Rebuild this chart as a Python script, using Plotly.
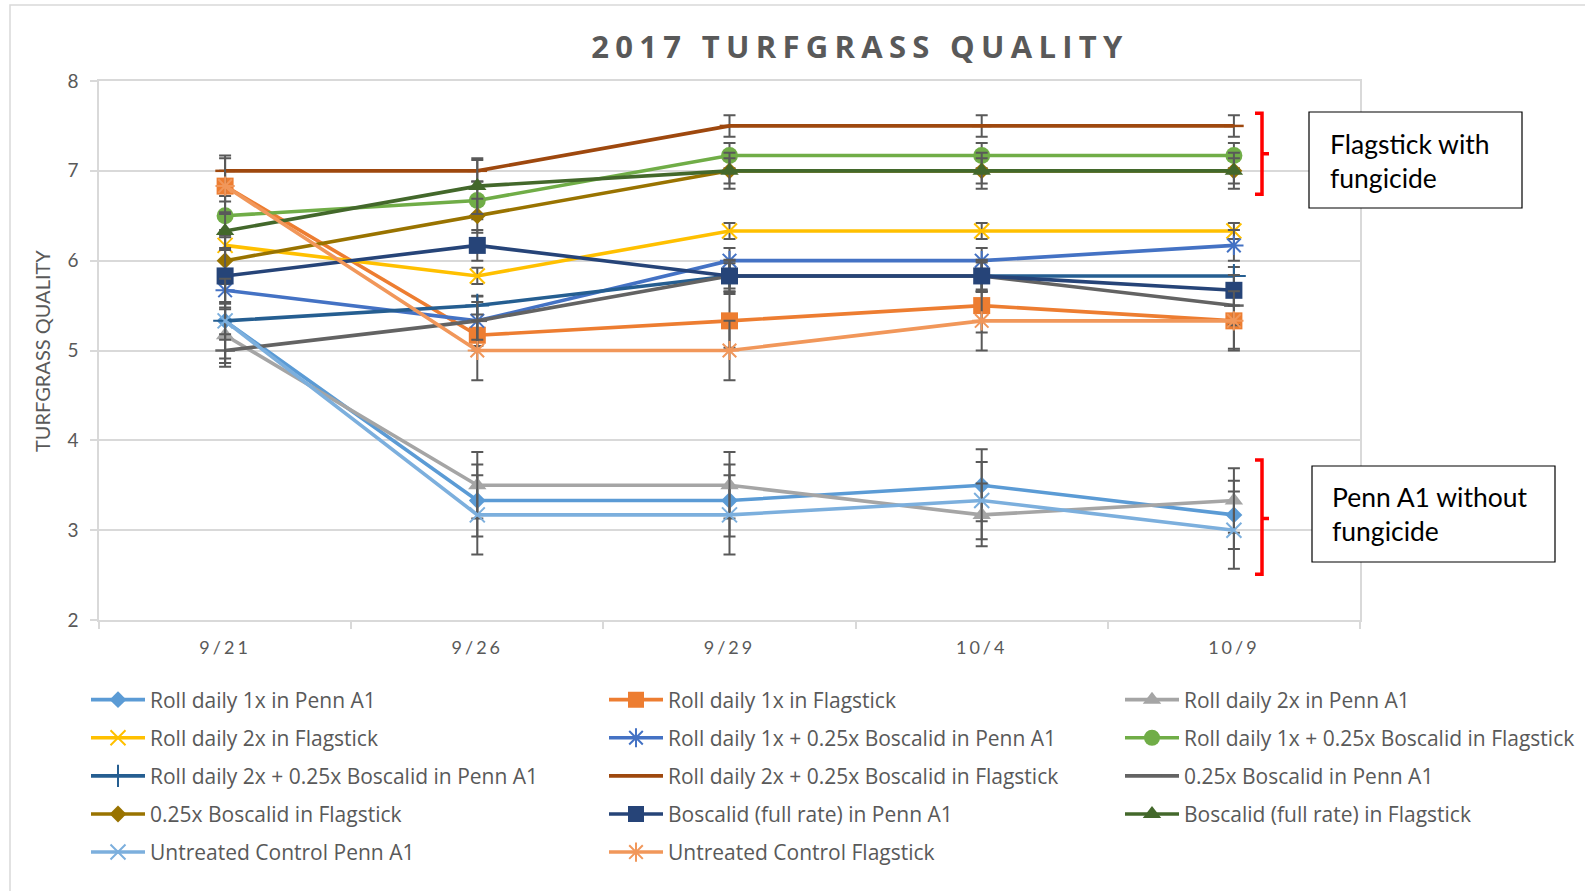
import plotly.graph_objects as go

# ---------------- data ----------------
dates = ["9/21", "9/26", "9/29", "10/4", "10/9"]

names = [
    "Roll daily 1x in Penn A1",
    "Roll daily 1x in Flagstick",
    "Roll daily 2x in Penn A1",
    "Roll daily 2x in Flagstick",
    "Roll daily 1x + 0.25x Boscalid in Penn A1",
    "Roll daily 1x + 0.25x Boscalid in Flagstick",
    "Roll daily 2x + 0.25x Boscalid in Penn A1",
    "Roll daily 2x + 0.25x Boscalid in Flagstick",
    "0.25x Boscalid in Penn A1",
    "0.25x Boscalid in Flagstick",
    "Boscalid (full rate) in Penn A1",
    "Boscalid (full rate) in Flagstick",
    "Untreated Control Penn A1",
    "Untreated Control Flagstick",
]

roll1_penn = [5.33, 3.33, 3.33, 3.50, 3.17]
roll1_flag = [6.83, 5.17, 5.33, 5.50, 5.33]
roll2_penn = [5.17, 3.50, 3.50, 3.17, 3.33]
roll2_flag = [6.17, 5.83, 6.33, 6.33, 6.33]
roll1_bos_penn = [5.67, 5.33, 6.00, 6.00, 6.17]
roll1_bos_flag = [6.50, 6.67, 7.17, 7.17, 7.17]
roll2_bos_penn = [5.33, 5.50, 5.83, 5.83, 5.83]
roll2_bos_flag = [7.00, 7.00, 7.50, 7.50, 7.50]
bos025_penn = [5.00, 5.33, 5.83, 5.83, 5.50]
bos025_flag = [6.00, 6.50, 7.00, 7.00, 7.00]
bosfull_penn = [5.83, 6.17, 5.83, 5.83, 5.67]
bosfull_flag = [6.33, 6.83, 7.00, 7.00, 7.00]
untreated_penn = [5.33, 3.17, 3.17, 3.33, 3.00]
untreated_flag = [6.83, 5.00, 5.00, 5.33, 5.33]

err_roll1_penn = [0.42, 0.40, 0.40, 0.40, 0.38]
err_roll1_flag = [0.17, 0.17, 0.30, 0.30, 0.31]
err_roll2_penn = [0.31, 0.37, 0.37, 0.35, 0.36]
err_roll2_flag = [0.17, 0.09, 0.09, 0.09, 0.09]
err_roll1_bos_penn = [0.21, 0.28, 0.14, 0.14, 0.17]
err_roll1_bos_flag = [0.22, 0.21, 0.14, 0.14, 0.14]
err_roll2_bos_penn = [0.21, 0.10, 0.17, 0.17, 0.10]
err_roll2_bos_flag = [0.17, 0.12, 0.12, 0.12, 0.12]
err_bos025_penn = [0.18, 0.21, 0.18, 0.18, 0.22]
err_bos025_flag = [0.26, 0.19, 0.20, 0.20, 0.20]
err_bosfull_penn = [0.31, 0.17, 0.14, 0.15, 0.17]
err_bosfull_flag = [0.21, 0.31, 0.14, 0.14, 0.14]
err_untreated_penn = [0.47, 0.44, 0.44, 0.43, 0.43]
err_untreated_flag = [0.31, 0.33, 0.33, 0.33, 0.33]

values = [roll1_penn, roll1_flag, roll2_penn, roll2_flag, roll1_bos_penn,
          roll1_bos_flag, roll2_bos_penn, roll2_bos_flag, bos025_penn,
          bos025_flag, bosfull_penn, bosfull_flag, untreated_penn, untreated_flag]
errors = [err_roll1_penn, err_roll1_flag, err_roll2_penn, err_roll2_flag,
          err_roll1_bos_penn, err_roll1_bos_flag, err_roll2_bos_penn,
          err_roll2_bos_flag, err_bos025_penn, err_bos025_flag,
          err_bosfull_penn, err_bosfull_flag, err_untreated_penn, err_untreated_flag]

# ---------------- styles ----------------
colors = ["#5B9BD5", "#ED7D31", "#A5A5A5", "#FFC000", "#4472C4", "#70AD47",
          "#255E91", "#9E480E", "#636363", "#997300", "#264478", "#43682B",
          "#7CAFDD", "#F1975A"]
symbols = ["diamond", "square", "triangle-up", "x-thin-open", "asterisk-open",
           "circle", "cross-thin-open", "line-ew-open", "line-ew-open",
           "diamond", "square", "triangle-up", "x-thin-open", "asterisk-open"]
sizes = [13, 17, 16, 15, 16, 17, 17, 14, 14, 13, 17, 16, 15, 16]
open_syms = {"x-thin-open", "asterisk-open", "cross-thin-open", "line-ew-open"}

FONT = "Lato"
GRAY = "#595959"
GRID = "#D9D9D9"

W, H = 1585, 891
L, R, T, B = 99, 225, 81, 271
PW, PH = W - L - R, H - T - B


def px2x(px):
    return (px - L) / PW


def py2y(py):
    return (H - B - py) / PH


fig = go.Figure()

legend_ids = ["legend", "legend2", "legend3"]
for i, (nm, v, e) in enumerate(zip(names, values, errors)):
    sym = symbols[i]
    if sym in open_syms:
        marker = dict(symbol=sym, size=sizes[i], color=colors[i],
                      line=dict(color=colors[i], width=2.5 if sym == "line-ew-open" else 2))
    else:
        marker = dict(symbol=sym, size=sizes[i], color=colors[i],
                      line=dict(width=0))
    fig.add_trace(go.Scatter(
        x=dates, y=v, name=nm, mode="lines+markers",
        line=dict(color=colors[i], width=3.6),
        marker=marker,
        error_y=dict(type="data", array=e, visible=True, color=GRAY,
                     thickness=2, width=6),
        legend=legend_ids[i % 3],
        legendgroup="g%d" % i,
    ))

# ---------------- decorations ----------------
shapes = []
# outer chart border
shapes.append(dict(type="rect", xref="paper", yref="paper",
                   x0=px2x(10), x1=px2x(1610), y0=py2y(920), y1=py2y(5),
                   line=dict(color=GRID, width=1.5), fillcolor="rgba(0,0,0,0)",
                   layer="below"))

# red brackets (data y, paper x)
def bracket(ytop, ybot, ymid):
    xa, xb, xc = px2x(1255), px2x(1262), px2x(1269)
    path = ("M {a},{t} L {b},{t} L {b},{bt} L {a},{bt} M {b},{m} L {c},{m}"
            .format(a=xa, b=xb, c=xc, t=ytop, bt=ybot, m=ymid))
    return dict(type="path", xref="paper", yref="y", path=path,
                line=dict(color="#FF0000", width=3.5))

shapes.append(bracket(7.64, 6.74, 7.19))
shapes.append(bracket(3.78, 2.51, 3.13))

# text boxes
shapes.append(dict(type="rect", xref="paper", yref="paper",
                   x0=px2x(1309), x1=px2x(1522), y0=py2y(208), y1=py2y(112),
                   line=dict(color="#000000", width=1.2), fillcolor="white"))
shapes.append(dict(type="rect", xref="paper", yref="paper",
                   x0=px2x(1312), x1=px2x(1555), y0=py2y(562), y1=py2y(466),
                   line=dict(color="#000000", width=1.2), fillcolor="white"))

annotations = [
    dict(text="Flagstick with<br>fungicide", xref="paper", yref="paper",
         x=px2x(1328), y=py2y(161), xanchor="left", yanchor="middle",
         align="left", showarrow=False,
         font=dict(family=FONT, size=26.5, color="#000000")),
    dict(text="Penn A1 without<br>fungicide", xref="paper", yref="paper",
         x=px2x(1330), y=py2y(514), xanchor="left", yanchor="middle",
         align="left", showarrow=False,
         font=dict(family=FONT, size=26.5, color="#000000")),
    dict(text="TURFGRASS QUALITY", xref="paper", yref="paper",
         x=px2x(42), y=py2y(351), xanchor="center", yanchor="middle",
         textangle=-90, showarrow=False,
         font=dict(family=FONT, size=20, color=GRAY)),
]

legend_common = dict(orientation="v", xref="container", yref="container",
                     xanchor="left", yanchor="top", bgcolor="rgba(0,0,0,0)",
                     borderwidth=0, itemwidth=54, tracegroupgap=7.8,
                     font=dict(family="Open Sans", size=21, color=GRAY),
                     itemclick=False, itemdoubleclick=False)
leg_y = 1 - 679.5 / H

fig.update_layout(
    width=W, height=H,
    margin=dict(l=L, r=R, t=T, b=B, autoexpand=False),
    paper_bgcolor="white", plot_bgcolor="white",
    title=dict(text="<b>2017 TURFGRASS QUALITY</b>", xref="container",
               yref="container", x=860 / W, y=1 - 47.5 / H,
               xanchor="center", yanchor="middle",
               font=dict(family="Open Sans", size=31, color=GRAY)),
    xaxis=dict(type="category", range=[-0.5, 4.5], showgrid=False,
               showline=True, linecolor=GRID, linewidth=1.5, mirror=True,
               ticks="outside", tickson="boundaries", ticklen=7,
               tickcolor=GRID, tickwidth=1.5, ticklabelstandoff=11,
               tickfont=dict(family=FONT, size=18, color=GRAY), zeroline=False),
    yaxis=dict(range=[2, 8], dtick=1, showgrid=True, gridcolor=GRID,
               gridwidth=1.5, showline=True, linecolor=GRID, linewidth=1.5,
               mirror=True, ticks="outside", ticklen=7, tickcolor=GRID,
               tickwidth=1.5, ticklabelstandoff=8, zeroline=False,
               tickfont=dict(family=FONT, size=19, color=GRAY)),
    legend=dict(x=86 / W, y=leg_y, **legend_common),
    legend2=dict(x=604 / W, y=leg_y, **legend_common),
    legend3=dict(x=1120 / W, y=leg_y, **legend_common),
    shapes=shapes,
    annotations=annotations,
)

post = """
document.body.style.margin='0';
document.body.style.overflow='hidden';
function spacing(){
  document.querySelectorAll('.gtitle').forEach(function(e){e.style.letterSpacing='6.3px';});
  document.querySelectorAll('.xtick text').forEach(function(e){e.style.letterSpacing='3px';});
}
spacing();
var gd=document.getElementById('{plot_id}');
if (gd && gd.on) { gd.on('plotly_afterplot', spacing); }
"""

fig.write_html("out.html", post_script=post,
               config={"displayModeBar": False})
